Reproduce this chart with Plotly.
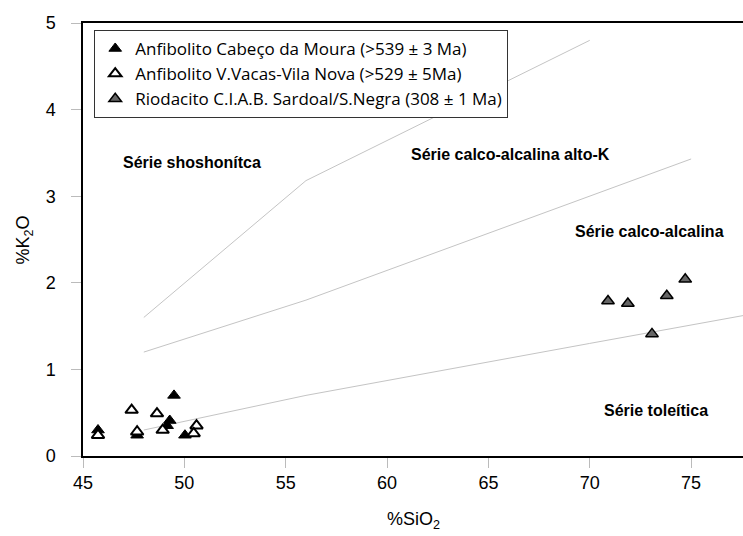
import plotly.graph_objects as go

# Series data (SiO2 %, K2O %)
moura_sio2 = [45.74, 49.49, 49.28, 49.15, 50.03, 47.67]
moura_k2o = [0.30, 0.70, 0.41, 0.35, 0.24, 0.24]

vacas_sio2 = [45.74, 47.40, 48.65, 47.67, 48.93, 50.60, 50.46]
vacas_k2o = [0.24, 0.53, 0.49, 0.28, 0.30, 0.35, 0.26]

sardoal_sio2 = [70.90, 71.88, 73.80, 74.71, 73.07]
sardoal_k2o = [1.79, 1.76, 1.85, 2.04, 1.41]

# Series boundary lines
shosh_x = [48, 56, 70]
shosh_y = [1.6, 3.18, 4.8]
highk_x = [48, 56, 75]
highk_y = [1.2, 1.8, 3.43]
thol_x = [48, 56, 70, 78]
thol_y = [0.3, 0.7, 1.3, 1.64]

# Field labels
field_labels = ["Série shoshonítca", "Série calco-alcalina alto-K",
                "Série calco-alcalina", "Série toleítica"]
field_x = [50.39, 66.11, 72.97, 73.27]
field_y = [3.39, 3.48, 2.59, 0.52]

legend_names = ["Anfibolito Cabeço da Moura (>539 ± 3 Ma)",
                "Anfibolito V.Vacas-Vila Nova (>529 ± 5Ma)",
                "Riodacito C.I.A.B. Sardoal/S.Negra (308 ± 1 Ma)"]

x_ticks = [45, 50, 55, 60, 65, 70, 75]
y_ticks = [0, 1, 2, 3, 4, 5]

fig = go.Figure()

line_style = dict(color="#c4c4c4", width=1)
for lx, ly in [(shosh_x, shosh_y), (highk_x, highk_y), (thol_x, thol_y)]:
    fig.add_trace(go.Scatter(x=lx, y=ly, mode="lines", line=line_style,
                             showlegend=False, hoverinfo="skip"))

fig.add_trace(go.Scatter(
    x=moura_sio2, y=moura_k2o, mode="markers", name=legend_names[0],
    marker=dict(symbol="triangle-up", size=11, color="black",
                line=dict(color="black", width=1))))
fig.add_trace(go.Scatter(
    x=vacas_sio2, y=vacas_k2o, mode="markers", name=legend_names[1],
    marker=dict(symbol="triangle-up", size=11, color="white",
                line=dict(color="black", width=2))))
fig.add_trace(go.Scatter(
    x=sardoal_sio2, y=sardoal_k2o, mode="markers", name=legend_names[2],
    marker=dict(symbol="triangle-up", size=11, color="#666666",
                line=dict(color="black", width=1.5))))

for t, x, y in zip(field_labels, field_x, field_y):
    fig.add_annotation(x=x, y=y, text=f"<b>{t}</b>", showarrow=False,
                       font=dict(family="Liberation Sans, Arial", size=16, color="black"))

axis_font = dict(family="Liberation Sans, Arial", size=18, color="black")

# Axis titles as paper annotations
fig.add_annotation(xref="paper", yref="paper", x=-0.088, y=0.5,
                   text="%K<sub>2</sub>O", textangle=-90, showarrow=False,
                   xanchor="center", yanchor="middle", font=axis_font)
fig.add_annotation(xref="paper", yref="paper", x=0.5, y=-0.148,
                   text="%SiO<sub>2</sub>", showarrow=False,
                   xanchor="center", yanchor="middle", font=axis_font)

fig.update_layout(
    width=743, height=536,
    margin=dict(l=83, r=0, t=23, b=80, autoexpand=False),
    paper_bgcolor="white", plot_bgcolor="white",
    font=axis_font,
    showlegend=True,
    legend=dict(x=0.017, y=0.984, xanchor="left", yanchor="top",
                bgcolor="white", bordercolor="#333333", borderwidth=1,
                font=dict(family="Open Sans, Noto Sans", size=17, color="black")),
    xaxis=dict(range=[45, 77.56], tickvals=x_ticks, ticks="outside", ticklen=10,
               tickcolor="#bbbbbb", showgrid=False, zeroline=False,
               showline=True, linecolor="black", linewidth=1.5, mirror=True,
               tickfont=axis_font, automargin=False),
    yaxis=dict(range=[0, 5], tickvals=y_ticks, ticks="outside", ticklen=10,
               tickcolor="#bbbbbb", showgrid=False, zeroline=False,
               showline=True, linecolor="black", linewidth=1.5,
               tickfont=axis_font, ticklabelstandoff=12, automargin=False),
)

fig.write_html("out.html", config={"displayModeBar": False},
               post_script="document.body.style.margin='0px';document.body.style.overflow='hidden';")
